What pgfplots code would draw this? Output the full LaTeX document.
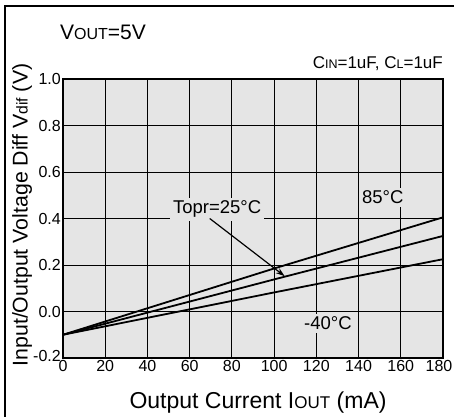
\documentclass[border=0pt]{standalone}
\usepackage{fontspec}
\setmainfont{Liberation Sans}
\usepackage{pgfplots}
\pgfplotsset{compat=1.18}
\usetikzlibrary{arrows.meta}
\definecolor{bg}{gray}{0.9}
\newcommand{\fs}[1]{\fontsize{#1}{#1}\selectfont}
\begin{document}
\begin{tikzpicture}[x=1pt,y=1pt]
\begin{axis}[
  at={(0,0)}, anchor=south west,
  scale only axis, width=380pt, height=279pt,
  xmin=0, xmax=180, ymin=-0.2, ymax=1.0,
  xtick={0,20,40,60,80,100,120,140,160,180},
  xticklabels={0,20,40,60,80,100,120,140,160,\hspace*{-8pt}180},
  ytick={-0.2,0,0.2,0.4,0.6,0.8,1.0},
  yticklabels={\raisebox{5pt}{-0.2},0.0,0.2,0.4,0.6,0.8,1.0},
  tick label style={font=\fs{16}, inner sep=2pt},
  major tick length=0pt,
  grid=major, major grid style={black, line width=0.8pt},
  axis line style={line width=1.6pt},
  axis background/.style={fill=bg},
  clip=false,
]
\addplot[black, line width=1.8pt] coordinates {(0,-0.1) (100,0.185) (180,0.405)};
\addplot[black, line width=1.8pt] coordinates {(0,-0.1) (100,0.138) (180,0.325)};
\addplot[black, line width=1.8pt] coordinates {(0,-0.1) (100,0.082) (180,0.225)};
\node[fill=bg, inner sep=3pt, font=\fs{18.5}] at (axis cs:73,0.44) {Topr=25°C};
\node[fill=bg, inner sep=3pt, font=\fs{18.5}] at (axis cs:151.5,0.49) {85°C};
\node[fill=bg, inner sep=3pt, font=\fs{18.5}] at (axis cs:125.5,-0.05) {-40°C};
\draw[-{Stealth[length=9pt,width=6pt]}, line width=1.2pt] (axis cs:69.5,0.40) -- (axis cs:105,0.152);
\end{axis}
\node[anchor=base west, font=\fs{21}, inner sep=0pt] at (-3,319) {V{\fs{16}OUT}=5V};
\node[anchor=base east, font=\fs{17}, inner sep=0pt] at (380,290) {C{\fs{12.5}IN}=1uF, C{\fs{12.5}L}=1uF};
\node[font=\fs{23}] at (195,-45) {Output Current I{\fs{17}OUT} (mA)};
\node[font=\fs{21.3}, rotate=90] at (-41,143) {Input/Output Voltage Diff V{\fs{15.7}dif} (V)};
\draw[line width=1.5pt] (-58,-60) -- (-58,352) -- (393,352);
\pgfresetboundingbox
\useasboundingbox (-63,-58) rectangle (391,358);
\end{tikzpicture}
\end{document}
